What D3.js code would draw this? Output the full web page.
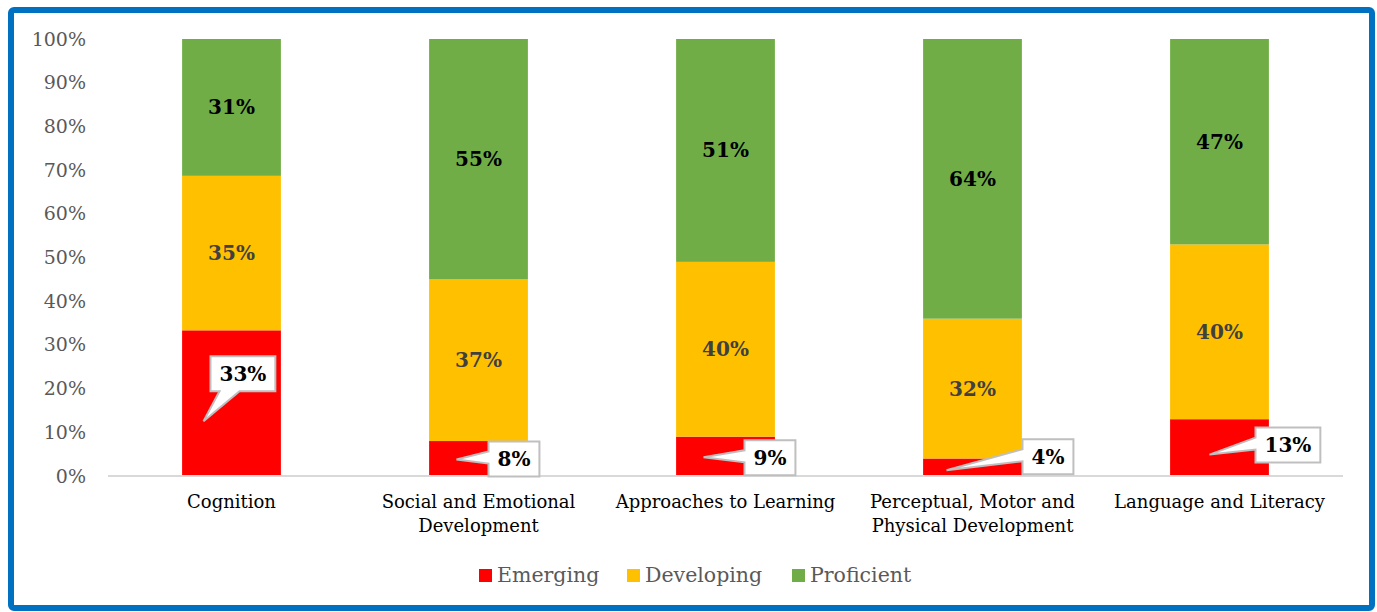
<!DOCTYPE html>
<html>
<head>
<meta charset="utf-8">
<script src="https://cdn.jsdelivr.net/npm/d3@7"></script>
<style>
  body { margin: 0; background: #fff; }
  svg { display: block; font-family: "DejaVu Serif", Georgia, serif; }
</style>
</head>
<body>
<svg id="chart" width="1377" height="612"></svg>
<script>
// data
var categories = ["Cognition", "Social and Emotional Development", "Approaches to Learning",
                  "Perceptual, Motor and Physical Development", "Language and Literacy"];
var emerging   = [33, 8, 9, 4, 13];
var developing = [35, 37, 40, 32, 40];
var proficient = [31, 55, 51, 64, 47];
var seriesNames = ["Emerging", "Developing", "Proficient"];
var yTicks = [0, 0.1, 0.2, 0.3, 0.4, 0.5, 0.6, 0.7, 0.8, 0.9, 1];

var colors = ["#ff0000", "#ffc000", "#70ad47"];

// where each callout box sits, relative to bar centre / middle of the red segment
var callouts = [
  { tip: [-28, 18], box: [-21, -47], side: "bottom" },
  { tip: [-22, 1],  box: [10, -17],  side: "left" },
  { tip: [-22, 1],  box: [19, -16],  side: "left" },
  { tip: [-26, 3],  box: [50, -28],  side: "left" },
  { tip: [-10, 7],  box: [36, -20],  side: "left" }
];

var serif = "'DejaVu Serif', Georgia, serif";
var svg = d3.select("#chart");

// blue frame
svg.append("rect")
  .attr("x", 11).attr("y", 10)
  .attr("width", 1361).attr("height", 598)
  .attr("rx", 3)
  .attr("fill", "#fff")
  .attr("stroke", "#0070c0")
  .attr("stroke-width", 6);

var margin = { top: 39, left: 108, right: 34 },
  width = 1377 - margin.left - margin.right,
  height = 476 - margin.top;

var g = svg.append("g").attr("transform", "translate(" + margin.left + "," + margin.top + ")");

var rows = categories.map(function(c, i) {
  return { cat: c, Emerging: emerging[i], Developing: developing[i], Proficient: proficient[i] };
});

var stack = d3.stack().keys(seriesNames).offset(d3.stackOffsetExpand);
var layers = stack(rows);

var x = d3.scaleBand()
  .domain(categories)
  .range([0, width])
  .paddingInner(0.6)
  .paddingOuter(0.3);

var y = d3.scaleLinear().domain([0, 1]).range([height, 0]);

// y axis labels
var yAxis = g.append("g")
  .call(d3.axisLeft(y).tickValues(yTicks).tickFormat(d3.format(".0%")).tickSize(0).tickPadding(22))
  .attr("font-family", serif);
yAxis.select(".domain").remove();
yAxis.selectAll("text")
  .attr("fill", "#595959")
  .style("font-size", "19px");

// bars
g.selectAll(".layer")
  .data(layers)
  .enter().append("g")
    .attr("class", "layer")
    .attr("fill", function(d, i) { return colors[i]; })
  .selectAll("rect")
  .data(function(d) { return d; })
  .enter().append("rect")
    .attr("x", function(d) { return x(d.data.cat); })
    .attr("y", function(d) { return y(d[1]); })
    .attr("width", x.bandwidth())
    .attr("height", function(d) { return y(d[0]) - y(d[1]); });

// baseline
g.append("line")
  .attr("x1", 0).attr("x2", width)
  .attr("y1", height).attr("y2", height)
  .attr("stroke", "#d9d9d9")
  .attr("stroke-width", 2);

// category labels
var xAxis = g.append("g")
  .attr("transform", "translate(0," + height + ")")
  .call(d3.axisBottom(x).tickSize(0).tickPadding(0))
  .attr("font-family", serif);
xAxis.select(".domain").remove();
xAxis.selectAll("text").remove();
var wrapNames = {
  "Social and Emotional Development": ["Social and Emotional", "Development"],
  "Perceptual, Motor and Physical Development": ["Perceptual, Motor and", "Physical Development"]
};
xAxis.selectAll(".tick").each(function(d) {
  var lines = wrapNames[d] || [d];
  var t = d3.select(this).append("text")
    .attr("text-anchor", "middle")
    .attr("fill", "#000")
    .style("font-size", "18px");
  lines.forEach(function(l, i) {
    t.append("tspan").attr("x", 0).attr("y", 32 + i * 24).text(l);
  });
});

// labels for Developing and Proficient
[1, 2].forEach(function(k) {
  g.selectAll(".lbl" + k)
    .data(layers[k])
    .enter().append("text")
      .attr("x", function(d) { return x(d.data.cat) + x.bandwidth() / 2; })
      .attr("y", function(d) { return (y(d[0]) + y(d[1])) / 2; })
      .attr("dy", "0.35em")
      .attr("text-anchor", "middle")
      .attr("fill", k === 1 ? "#404040" : "#000")
      .style("font-size", "20px")
      .style("font-weight", "bold")
      .text(function(d) { return d.data[seriesNames[k]] + "%"; });
});

// callouts for Emerging
layers[0].forEach(function(d, i) {
  var c = callouts[i];
  var cx = x(d.data.cat) + x.bandwidth() / 2;
  var my = (y(d[0]) + y(d[1])) / 2;
  var tx = cx + c.tip[0], ty = my + c.tip[1];
  var bl = cx + c.box[0], bt = my + c.box[1];

  var grp = g.append("g");
  var path = grp.append("path")
    .attr("fill", "#fff")
    .attr("stroke", "#bfbfbf")
    .attr("stroke-width", 2);
  var txt = grp.append("text")
    .attr("fill", "#000")
    .style("font-size", "20px")
    .style("font-weight", "bold")
    .attr("text-anchor", "middle")
    .text(emerging[i] + "%");
  var w = txt.node().getComputedTextLength() + 18, h = 35;
  var br = bl + w, bb = bt + h;
  txt.attr("x", bl + w / 2).attr("y", bt + h / 2).attr("dy", "0.35em");

  var p;
  if (c.side === "bottom") {
    p = "M" + bl + "," + bt + "H" + br + "V" + bb + "H" + (bl + 29) +
        "L" + tx + "," + ty + "L" + (bl + 9) + "," + bb + "H" + bl + "Z";
  } else {
    p = "M" + bl + "," + bt + "H" + br + "V" + bb + "H" + bl + "V" + (bt + 22) +
        "L" + tx + "," + ty + "L" + bl + "," + (bt + 10) + "Z";
  }
  path.attr("d", p);
});

// legend
var legendX = [479, 627, 792];
var legend = svg.append("g").attr("transform", "translate(0,575)");
seriesNames.forEach(function(s, i) {
  legend.append("rect")
    .attr("x", legendX[i]).attr("y", -6)
    .attr("width", 13).attr("height", 13)
    .attr("fill", colors[i]);
  legend.append("text")
    .attr("x", legendX[i] + 18).attr("y", 0)
    .attr("dy", "0.35em")
    .attr("fill", "#595959")
    .style("font-size", "20.5px")
    .text(s);
});
</script>
</body>
</html>
